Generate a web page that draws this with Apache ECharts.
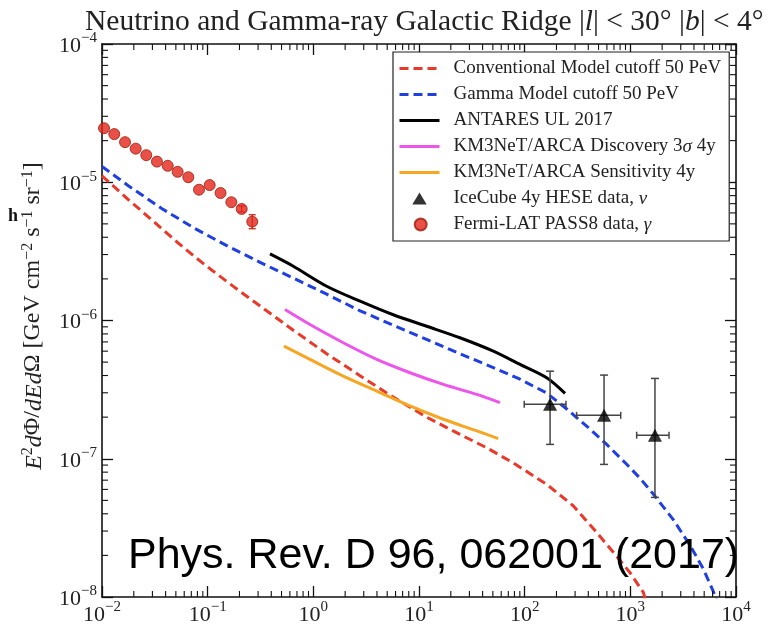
<!DOCTYPE html>
<html><head><meta charset="utf-8">
<script src="https://cdn.jsdelivr.net/npm/echarts@6/dist/echarts.min.js"></script>
<style>html,body{margin:0;padding:0;background:#fff}#c{width:769px;height:626px}</style>
</head><body><div id="c"></div>
<script>
// ---------- data ----------
const conventionalE = [0.01, 0.01774, 0.02553, 0.0367, 0.0527, 0.0759, 0.109, 0.1567, 0.2255, 0.334, 0.646, 1.337, 2.77, 5.71, 11.8, 24.4, 43.8, 78, 161.5, 288, 446, 690, 993, 1327, 1407];
const conventionalF = [1.114e-5, 7.50e-6, 5.89e-6, 4.62e-6, 3.63e-6, 2.88e-6, 2.32e-6, 1.88e-6, 1.53e-6, 1.23e-6, 8.51e-7, 5.75e-7, 3.98e-7, 2.79e-7, 2.00e-7, 1.50e-7, 1.20e-7, 9.33e-8, 6.53e-8, 4.57e-8, 3.13e-8, 2.11e-8, 1.50e-8, 1.08e-8, 9.3e-9];

const gammaE = [0.01, 0.01774, 0.0367, 0.0759, 0.1567, 0.324, 0.670, 1.337, 2.77, 5.71, 11.8, 24.4, 50.5, 90.3, 161.5, 250, 415, 597, 923, 1233, 1648, 2548, 3664, 4898, 6094, 6745];
const gammaF = [1.300e-5, 9.44e-6, 6.46e-6, 4.62e-6, 3.43e-6, 2.60e-6, 2.00e-6, 1.55e-6, 1.175e-6, 9.23e-7, 7.30e-7, 5.75e-7, 4.57e-7, 3.76e-7, 2.99e-7, 2.29e-7, 1.64e-7, 1.27e-7, 9.12e-8, 7.24e-8, 5.56e-8, 3.63e-8, 2.37e-8, 1.60e-8, 1.10e-8, 8.9e-9];

const antaresE = [0.389, 0.646, 1.337, 2.77, 5.71, 11.8, 24.4, 50.5, 90.3, 161.5, 241];
const antaresF = [3.03e-6, 2.47e-6, 1.77e-6, 1.38e-6, 1.10e-6, 9.09e-7, 7.50e-7, 6.00e-7, 4.81e-7, 3.85e-7, 2.97e-7];

const discoveryE = [0.539, 0.929, 1.92, 3.98, 8.22, 17.0, 35.2, 58.4];
const discoveryF = [1.20e-6, 9.35e-7, 6.90e-7, 5.23e-7, 4.19e-7, 3.45e-7, 2.92e-7, 2.55e-7];

const sensitivityE = [0.527, 0.929, 1.92, 3.98, 8.22, 17.0, 35.2, 56.2];
const sensitivityF = [6.52e-7, 5.23e-7, 3.96e-7, 3.09e-7, 2.41e-7, 1.93e-7, 1.59e-7, 1.40e-7];

const icecubeE = [174, 564, 1710];
const icecubeF = [2.48e-7, 2.06e-7, 1.48e-7];
const icecubeELow = [99, 310, 1148];
const icecubeEHigh = [246, 811, 2323];
const icecubeFLow = [1.27e-7, 9.1e-8, 5.25e-8];
const icecubeFHigh = [4.3e-7, 4.03e-7, 3.81e-7];

const fermiE = [0.01045, 0.01306, 0.01652, 0.02084, 0.02624, 0.03311, 0.04188, 0.05200, 0.06561, 0.08279, 0.1045, 0.1324, 0.1675, 0.2099, 0.2642];
const fermiF = [2.46e-5, 2.23e-5, 1.95e-5, 1.75e-5, 1.57e-5, 1.41e-5, 1.315e-5, 1.19e-5, 1.087e-5, 8.83e-6, 9.54e-6, 8.36e-6, 7.17e-6, 6.41e-6, 5.19e-6];
const fermiFLow = [null, null, null, null, null, null, null, null, null, null, null, null, null, 6.1e-6, 4.61e-6];
const fermiFHigh = [null, null, null, null, null, null, null, null, null, null, null, null, null, 6.75e-6, 5.82e-6];

const xDecades = [1e-2, 1e-1, 1, 10, 100, 1000];
const yDecades = [1e-8, 1e-7, 1e-6, 1e-5];
const minorMult = [2, 3, 4, 5, 6, 7, 8, 9];

const seriesNames = [
  'Conventional Model cutoff 50 PeV',
  'Gamma Model cutoff 50 PeV',
  'ANTARES UL 2017',
  'KM3NeT/ARCA Discovery 3σ 4y',
  'KM3NeT/ARCA Sensitivity 4y',
  'IceCube 4y HESE data, ν',
  'Fermi-LAT PASS8 data, γ'
];
const titleText = 'Neutrino and Gamma-ray Galactic Ridge |{i|l}| < 30° |{i|b}| < 4°';
const yLabelText = '{i|E}{s|2}{i|d}Φ/{i|dEd}Ω [GeV cm{s|−2} s{s|−1} sr{s|−1}]';
const refText = 'Phys. Rev. D 96, 062001 (2017)';

// ---------- chart ----------
const SERIF = '"Liberation Serif", "DejaVu Serif", serif';
const pairs = (xs, ys) => xs.map((x, i) => [x, ys[i]]);
const xMinor = []; xDecades.forEach(d => minorMult.forEach(m => xMinor.push(d * m)));
const yMinor = []; yDecades.forEach(d => minorMult.forEach(m => yMinor.push(d * m)));

function powLabel(v) {
  const e = Math.round(Math.log10(v));
  return '{b|10}{s|' + (e < 0 ? '−' + (-e) : String(e)) + '}';
}
const labelRich = {
  b: {fontFamily: SERIF, fontSize: 22, lineHeight: 26, verticalAlign: 'bottom', color: '#222'},
  s: {fontFamily: SERIF, fontSize: 15, lineHeight: 15, verticalAlign: 'top', color: '#222'}
};
const axisLineStyle = {show: true, lineStyle: {color: '#111', width: 1.6}};
const tickStyle = {show: true, inside: true, length: 11, lineStyle: {color: '#111', width: 1.3}};

function xAx(pos, showLabel) {
  return {type: 'log', logBase: 10, min: 1e-2, max: 1e4, splitNumber: 6, position: pos,
    axisLine: axisLineStyle, axisTick: tickStyle, splitLine: {show: false},
    axisLabel: {show: showLabel, formatter: powLabel, rich: labelRich, margin: 3}};
}
function yAx(pos, showLabel) {
  return {type: 'log', logBase: 10, min: 1e-8, max: 1e-4, splitNumber: 4, position: pos,
    axisLine: axisLineStyle, axisTick: tickStyle, splitLine: {show: false},
    axisLabel: {show: showLabel, formatter: powLabel, rich: labelRich, margin: 5}};
}

const minorLen = 6;
function minorX(params, api) {
  const x = api.coord([api.value(0), 1e-6])[0];
  const cs = params.coordSys;
  const st = {stroke: '#111', lineWidth: 1.1};
  return {type: 'group', children: [
    {type: 'line', shape: {x1: x, y1: cs.y + cs.height, x2: x, y2: cs.y + cs.height - minorLen}, style: st},
    {type: 'line', shape: {x1: x, y1: cs.y, x2: x, y2: cs.y + minorLen}, style: st}
  ]};
}
function minorY(params, api) {
  const y = api.coord([1, api.value(1)])[1];
  const cs = params.coordSys;
  const st = {stroke: '#111', lineWidth: 1.1};
  return {type: 'group', children: [
    {type: 'line', shape: {x1: cs.x, y1: y, x2: cs.x + minorLen, y2: y}, style: st},
    {type: 'line', shape: {x1: cs.x + cs.width, y1: y, x2: cs.x + cs.width - minorLen, y2: y}, style: st}
  ]};
}
function errIce(params, api) {
  const x = api.value(0), y = api.value(1);
  const c = api.coord([x, y]);
  const l = api.coord([api.value(2), y]), r = api.coord([api.value(3), y]);
  const lo = api.coord([x, api.value(4)]), hi = api.coord([x, api.value(5)]);
  const st = {stroke: '#444', lineWidth: 1.5};
  const cap = 4, vcap = 3.5;
  return {type: 'group', children: [
    {type: 'line', shape: {x1: c[0], y1: lo[1], x2: c[0], y2: hi[1]}, style: st},
    {type: 'line', shape: {x1: l[0], y1: c[1], x2: r[0], y2: c[1]}, style: st},
    {type: 'line', shape: {x1: c[0] - cap, y1: lo[1], x2: c[0] + cap, y2: lo[1]}, style: st},
    {type: 'line', shape: {x1: c[0] - cap, y1: hi[1], x2: c[0] + cap, y2: hi[1]}, style: st},
    {type: 'line', shape: {x1: l[0], y1: c[1] - vcap, x2: l[0], y2: c[1] + vcap}, style: st},
    {type: 'line', shape: {x1: r[0], y1: c[1] - vcap, x2: r[0], y2: c[1] + vcap}, style: st}
  ]};
}
function errFermi(params, api) {
  const x = api.value(0);
  const lo = api.coord([x, api.value(1)]), hi = api.coord([x, api.value(2)]);
  const st = {stroke: '#c0291a', lineWidth: 1.3};
  const cap = 3.5;
  return {type: 'group', children: [
    {type: 'line', shape: {x1: lo[0], y1: lo[1], x2: hi[0], y2: hi[1]}, style: st},
    {type: 'line', shape: {x1: lo[0] - cap, y1: lo[1], x2: lo[0] + cap, y2: lo[1]}, style: st},
    {type: 'line', shape: {x1: hi[0] - cap, y1: hi[1], x2: hi[0] + cap, y2: hi[1]}, style: st}
  ]};
}

const dash = [9, 5];
const legendData = seriesNames.map((n, i) => {
  if (i < 5) return {name: n, itemStyle: {opacity: 0}};
  if (i === 5) return {name: n, icon: 'path://M0,10 L6,0 L12,10 Z'};
  return {name: n, icon: 'path://M-2,5 L-2,5 M0,5 A5,5 0 1,1 10,5 A5,5 0 1,1 0,5 Z'};
});
const option = {
  animation: false,
  backgroundColor: '#fff',
  grid: {left: 102, right: 33, top: 44, bottom: 28},
  title: {text: titleText, left: 80, top: 2,
    textStyle: {fontFamily: SERIF, fontSize: 29.5, fontWeight: 'normal', color: '#222',
      rich: {i: {fontFamily: SERIF, fontSize: 29.5, fontStyle: 'italic', color: '#222'}}}},
  legend: {orient: 'vertical', left: 393, top: 52, padding: [7, 8, 7, 5], itemGap: 7,
    itemWidth: 40, itemHeight: 12, borderColor: '#222', borderWidth: 1.2, backgroundColor: '#fff',
    selectedMode: false, data: legendData, symbolKeepAspect: true,
    lineStyle: {width: 3},
    formatter: n => n.replace(/([σνγ])/g, '{i|$1}'),
    textStyle: {fontFamily: SERIF, fontSize: 19, lineHeight: 18, color: '#222', padding: [0, 0, 0, 9],
      rich: {i: {fontFamily: SERIF, fontSize: 19, lineHeight: 18, fontStyle: 'italic', color: '#222'}}}},
  xAxis: [xAx('bottom', true), xAx('top', false)],
  yAxis: [yAx('left', true), yAx('right', false)],
  series: [
    {type: 'custom', renderItem: minorX, data: xMinor.map(v => [v, 1e-6]), silent: true, clip: false, z: 5},
    {type: 'custom', renderItem: minorY, data: yMinor.map(v => [1, v]), silent: true, clip: false, z: 5},
    {name: seriesNames[0], type: 'line', data: pairs(conventionalE, conventionalF), showSymbol: false, symbol: 'none',
      lineStyle: {color: '#e8392a', width: 3, type: dash}, itemStyle: {color: '#e8392a'}, z: 2},
    {name: seriesNames[1], type: 'line', data: pairs(gammaE, gammaF), showSymbol: false, symbol: 'none',
      lineStyle: {color: '#1f3fe0', width: 3, type: dash}, itemStyle: {color: '#1f3fe0'}, z: 2},
    {name: seriesNames[2], type: 'line', data: pairs(antaresE, antaresF), showSymbol: false, symbol: 'none', smooth: 0.3,
      lineStyle: {color: '#000', width: 3}, itemStyle: {color: '#000'}, z: 2},
    {name: seriesNames[3], type: 'line', data: pairs(discoveryE, discoveryF), showSymbol: false, symbol: 'none', smooth: 0.3,
      lineStyle: {color: '#ee55ea', width: 3}, itemStyle: {color: '#ee55ea'}, z: 2},
    {name: seriesNames[4], type: 'line', data: pairs(sensitivityE, sensitivityF), showSymbol: false, symbol: 'none', smooth: 0.3,
      lineStyle: {color: '#f5a623', width: 3}, itemStyle: {color: '#f5a623'}, z: 2},
    {type: 'custom', renderItem: errIce, silent: true, z: 3,
      data: icecubeE.map((e, i) => [e, icecubeF[i], icecubeELow[i], icecubeEHigh[i], icecubeFLow[i], icecubeFHigh[i]])},
    {name: seriesNames[5], type: 'scatter', data: pairs(icecubeE, icecubeF), symbol: 'triangle', symbolSize: [14, 13],
      itemStyle: {color: '#000'}, z: 4},
    {type: 'custom', renderItem: errFermi, silent: true, z: 3,
      data: fermiE.map((e, i) => [e, fermiFLow[i], fermiFHigh[i]]).filter(d => d[1] != null)},
    {name: seriesNames[6], type: 'scatter', data: pairs(fermiE, fermiF), symbol: 'circle', symbolSize: 11,
      itemStyle: {color: '#e3261a', borderColor: '#a01a0a', borderWidth: 1}, z: 4}
  ],
  graphic: [
    {type: 'text', x: 33, y: 316, rotation: Math.PI / 2, z: 10,
      style: {text: yLabelText, align: 'center', verticalAlign: 'middle', textAlign: 'center', textVerticalAlign: 'middle',
        fontFamily: SERIF, fontSize: 24, fill: '#222',
        rich: {i: {fontFamily: SERIF, fontSize: 24, fontStyle: 'italic', fill: '#222', color: '#222', lineHeight: 27, verticalAlign: 'bottom'},
               s: {fontFamily: SERIF, fontSize: 16, fill: '#222', color: '#222', lineHeight: 16, verticalAlign: 'top'}}}},
    {type: 'text', x: 8, y: 216, z: 10,
      style: {text: 'h', fontFamily: SERIF, fontSize: 18, fontWeight: 'bold', fill: '#111', verticalAlign: 'middle', textVerticalAlign: 'middle'}},
    {type: 'text', x: 128, y: 556, z: 10,
      style: {text: refText, fontFamily: '"Liberation Sans", Arial, sans-serif', fontSize: 43, fill: '#000', verticalAlign: 'middle', textVerticalAlign: 'middle'}}
  ]
};
const chart = echarts.init(document.getElementById('c'));
chart.setOption(option);
</script>
</body></html>
